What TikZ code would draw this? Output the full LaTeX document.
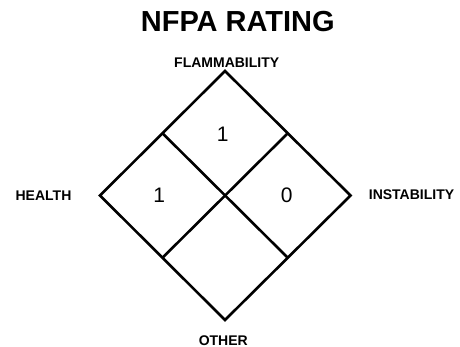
\documentclass[tikz,border=0pt]{standalone}
\usepackage{fontspec}
\setmainfont{Liberation Sans}
\usetikzlibrary{calc}

\begin{document}
\begin{tikzpicture}[x=1pt,y=-1pt,line width=2.6pt,line join=miter,
  title node/.style={anchor=base,font=\fontsize{29}{32}\selectfont\bfseries},
  label node/.style={anchor=base,font=\fontsize{14}{15}\selectfont\bfseries},
  num node/.style={anchor=base,font=\fontsize{21}{24}\selectfont}]

    \useasboundingbox (0,0) rectangle (460,347);

    % corners of the diamond
    \coordinate (top) at (225,71);
    \coordinate (left) at (100,195.5);
    \coordinate (right) at (350.5,195.5);
    \coordinate (bottom) at (225,320);

    \draw (top) -- (right) -- (bottom) -- (left) -- cycle;
    \draw ($(top)!0.5!(left)$) -- ($(right)!0.5!(bottom)$);
    \draw ($(top)!0.5!(right)$) -- ($(left)!0.5!(bottom)$);

    \node[title node] (title) at (237.8,31.7) {NFPA RATING};

    \node[label node] (flam) at (226.7,67.5) {FLAMMABILITY};
    \node[label node] (health) at (43.5,200.5) {HEALTH};
    \node[label node] (inst) at (411.5,200) {INSTABILITY};
    \node[label node] (other) at (223.3,345) {OTHER};

    \node[num node] (n1) at (222.7,141.7) {1};
    \node[num node] (n2) at (159.3,203) {1};
    \node[num node] (n3) at (286.8,203) {0};

\end{tikzpicture}
\end{document}
